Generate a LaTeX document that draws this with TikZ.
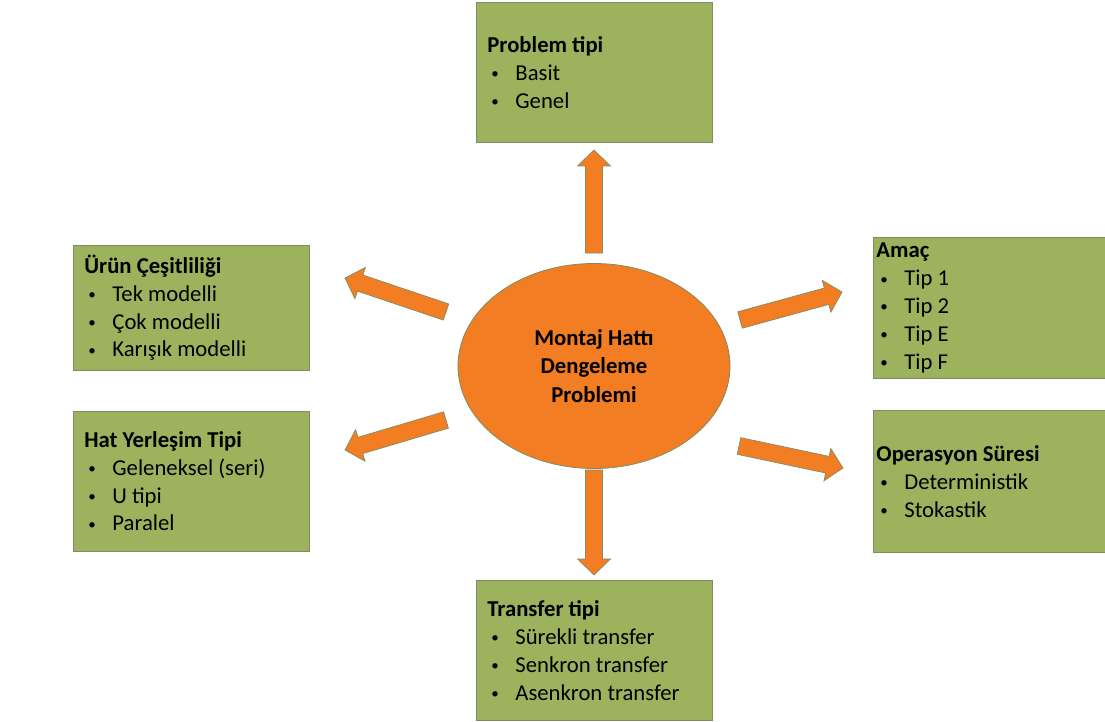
\documentclass[tikz,border=0pt]{standalone}
\usepackage{fontspec}
\setmainfont{Carlito}
\usetikzlibrary{calc,shapes.geometric}
\definecolor{KutuClr}{RGB}{156,178,92}
\definecolor{KenarClr}{RGB}{128,140,104}
\definecolor{TuruncuClr}{RGB}{242,125,34}

\newcommand\madde[1]{\\\hspace*{4pt}\makebox[24pt][l]{\raisebox{1.5pt}{\fontsize{15}{15}\selectfont\textbullet}}#1}
% block arrow from #1 (tail) to #2 (tip)
\newcommand\okblok[2]{%
  \coordinate (hb) at ($(#2)!16pt!(#1)$);
  \draw[okstil] ($(#1)!8.5pt!90:(#2)$) -- ($(hb)!8.5pt!90:(#2)$)
    -- ($(hb)!16.5pt!90:(#2)$) -- (#2) -- ($(hb)!16.5pt!-90:(#2)$)
    -- ($(hb)!8.5pt!-90:(#2)$) -- ($(#1)!8.5pt!-90:(#2)$) -- cycle;}

\begin{document}
\begin{tikzpicture}[x=1pt,y=-1pt,
  every node/.style={font=\fontsize{22.7}{27.8}\selectfont},
  kutu/.style={draw=KenarClr,line width=0.8pt,fill=KutuClr,anchor=north west,
    inner xsep=11pt,inner ysep=0pt,align=flush left},
  okstil/.style={draw=KenarClr,line width=0.7pt,fill=TuruncuClr,line join=miter}]
\useasboundingbox (0,0) rectangle (1105,722);

\node[kutu,minimum width=236,minimum height=140,text width=214] (prob) at (476,2)
  {\textbf{Problem tipi}\madde{Basit}\madde{Genel}};
\node[kutu,minimum width=236,minimum height=125,text width=214] (urun) at (73,245)
  {\textbf{Ürün Çeşitliliği}\madde{Tek modelli}\madde{Çok modelli}\madde{Karışık modelli}};
\node[kutu,minimum width=236,minimum height=140,text width=214] (hat) at (73,411)
  {\textbf{Hat Yerleşim Tipi}\madde{Geleneksel (seri)}\madde{U tipi}\madde{Paralel}};
\node[kutu,minimum width=250,minimum height=141,inner xsep=3pt,text width=244] (amac) at (873,237)
  {\textbf{Amaç}\madde{Tip 1}\madde{Tip 2}\madde{Tip E}\madde{Tip F}};
\node[kutu,minimum width=250,minimum height=142,inner xsep=3pt,text width=244] (oper) at (873,410)
  {\textbf{Operasyon Süresi}\madde{Deterministik}\madde{Stokastik}};
\node[kutu,minimum width=236,minimum height=140,text width=214] (trans) at (476,580)
  {\textbf{Transfer tipi}\madde{Sürekli transfer}\madde{Senkron transfer}\madde{Asenkron transfer}};

\node[ellipse,draw=KenarClr,line width=0.8pt,fill=TuruncuClr,minimum width=272,
  minimum height=205,align=flush center,font=\fontsize{22.7}{28.5}\selectfont\bfseries] (mhd) at (594,366)
  {Montaj Hattı\\Dengeleme\\Problemi};

\coordinate (u0) at (594,253);  \coordinate (u1) at (594,150);
\coordinate (d0) at (594,470);  \coordinate (d1) at (594,575);
\coordinate (ul0) at (446,312); \coordinate (ul1) at (345,278);
\coordinate (dl0) at (446,420); \coordinate (dl1) at (345,450);
\coordinate (ur0) at (740,320); \coordinate (ur1) at (842,292);
\coordinate (dr0) at (739,446); \coordinate (dr1) at (843,468);

\okblok{u0}{u1}
\okblok{d0}{d1}
\okblok{ul0}{ul1}
\okblok{dl0}{dl1}
\okblok{ur0}{ur1}
\okblok{dr0}{dr1}

\end{tikzpicture}
\end{document}
